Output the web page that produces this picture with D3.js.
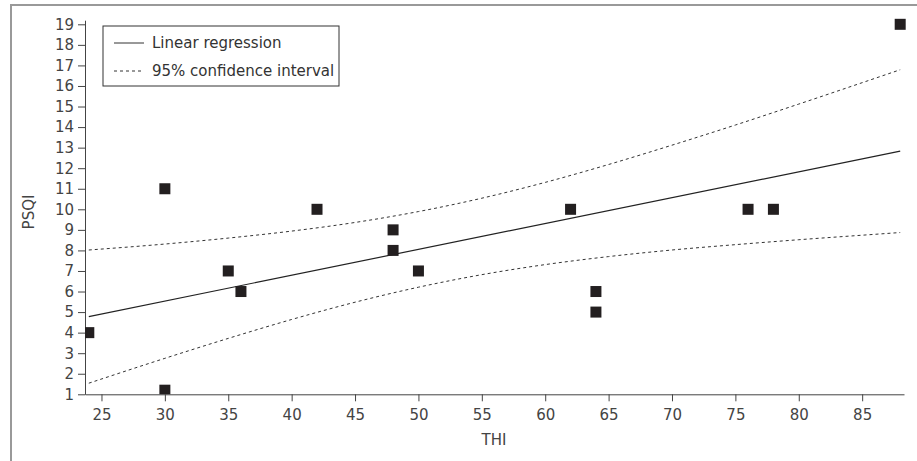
<!DOCTYPE html>
<html>
<head>
<meta charset="utf-8">
<script src="https://cdn.jsdelivr.net/npm/d3@7.9.0/dist/d3.min.js"></script>
<style>
  body { margin: 0; background: #fff; }
  svg { display: block; font-family: "DejaVu Sans", sans-serif; }
  .axis path, .axis line { stroke: #444; }
  .axis text { fill: #444; font-size: 15px; }
</style>
</head>
<body>
<svg id="chart" width="917" height="461"></svg>
<script>
// THI vs PSQI scatter
const thi  = [24, 30, 30, 35, 36, 42, 48, 48, 50, 62, 64, 64, 76, 78, 88];
const psqi = [4, 11, 1.2, 7, 6, 10, 9, 8, 7, 10, 6, 5, 10, 10, 19];

// regression line ends
const fitX = [24, 88];
const fitY = [4.78, 12.83];

// 95% CI bands
const ciX     = [24, 30, 35, 40, 45, 50, 55, 60, 65, 70, 75, 80, 85, 88];
const ciUpper = [8.02, 8.31, 8.60, 8.94, 9.36, 9.89, 10.54, 11.31, 12.18, 13.12, 14.10, 15.12, 16.16, 16.79];
const ciLower = [1.54, 2.75, 3.72, 4.64, 5.48, 6.21, 6.82, 7.31, 7.70, 8.02, 8.28, 8.52, 8.74, 8.87];

const xTicks = d3.range(25, 90, 5);
const yTicks = d3.range(1, 20, 1);

const svg = d3.select('#chart');

// outer frame
svg.append('rect')
  .attr('x', 11).attr('y', 5)
  .attr('width', 920).attr('height', 470)
  .attr('fill', 'none')
  .attr('stroke', '#999')
  .attr('stroke-width', 2);

const x = d3.scaleLinear().domain([23.7, 88.3]).range([85, 904]);
const y = d3.scaleLinear().domain([1, 19.2]).range([394.3, 20.2]);

svg.append('clipPath').attr('id', 'clip')
  .append('rect')
  .attr('x', 85).attr('y', 0)
  .attr('width', 832).attr('height', 394.3);

svg.append('g')
  .attr('class', 'axis')
  .attr('transform', 'translate(0,394.3)')
  .call(d3.axisBottom(x).tickValues(xTicks).tickSize(7).tickPadding(8).tickSizeOuter(0));

svg.append('g')
  .attr('class', 'axis')
  .attr('transform', 'translate(85,0)')
  .call(d3.axisLeft(y).tickValues(yTicks).tickSize(7).tickPadding(4).tickSizeOuter(0));

svg.selectAll('.axis text').style('font-family', '"DejaVu Sans", sans-serif');

// axis titles
svg.append('text')
  .attr('x', 494).attr('y', 445)
  .attr('text-anchor', 'middle')
  .attr('fill', '#444')
  .style('font-size', '15px')
  .text('THI');

svg.append('text')
  .attr('transform', 'translate(34,212) rotate(-90)')
  .attr('text-anchor', 'middle')
  .attr('fill', '#444')
  .style('font-size', '15px')
  .text('PSQI');

const line = d3.line().x(d => x(d[0])).y(d => y(d[1]));

svg.append('path')
  .datum(fitX.map((v, i) => [v, fitY[i]]))
  .attr('d', line)
  .attr('fill', 'none')
  .attr('stroke', '#222')
  .attr('stroke-width', 1.2);

[ciUpper, ciLower].forEach(band => {
  svg.append('path')
    .datum(ciX.map((v, i) => [v, band[i]]))
    .attr('d', d3.line().curve(d3.curveMonotoneX).x(d => x(d[0])).y(d => y(d[1])))
    .attr('fill', 'none')
    .attr('stroke', '#333')
    .attr('stroke-width', 1)
    .attr('stroke-dasharray', '3,3');
});

// points
const sz = 11;
svg.append('g')
  .attr('clip-path', 'url(#clip)')
  .selectAll('rect')
  .data(thi.map((v, i) => [v, psqi[i]]))
  .join('rect')
  .attr('x', d => x(d[0]) - sz / 2)
  .attr('y', d => y(d[1]) - sz / 2)
  .attr('width', sz)
  .attr('height', sz)
  .attr('fill', '#231f20');

// legend
const lg = svg.append('g');
lg.append('rect')
  .attr('x', 103).attr('y', 26)
  .attr('width', 236).attr('height', 60)
  .attr('fill', '#fff')
  .attr('stroke', '#333')
  .attr('stroke-width', 1);

const items = [
  { label: 'Linear regression', dash: null },
  { label: '95% confidence interval', dash: '3,3' }
];
items.forEach((d, i) => {
  const yy = 43 + i * 28;
  lg.append('line')
    .attr('x1', 114).attr('x2', 144)
    .attr('y1', yy).attr('y2', yy)
    .attr('stroke', '#333')
    .attr('stroke-width', 1)
    .attr('stroke-dasharray', d.dash);
  lg.append('text')
    .attr('x', 152).attr('y', yy)
    .attr('dy', '0.35em')
    .attr('fill', '#333')
    .style('font-size', '15px')
    .text(d.label);
});
</script>
</body>
</html>
